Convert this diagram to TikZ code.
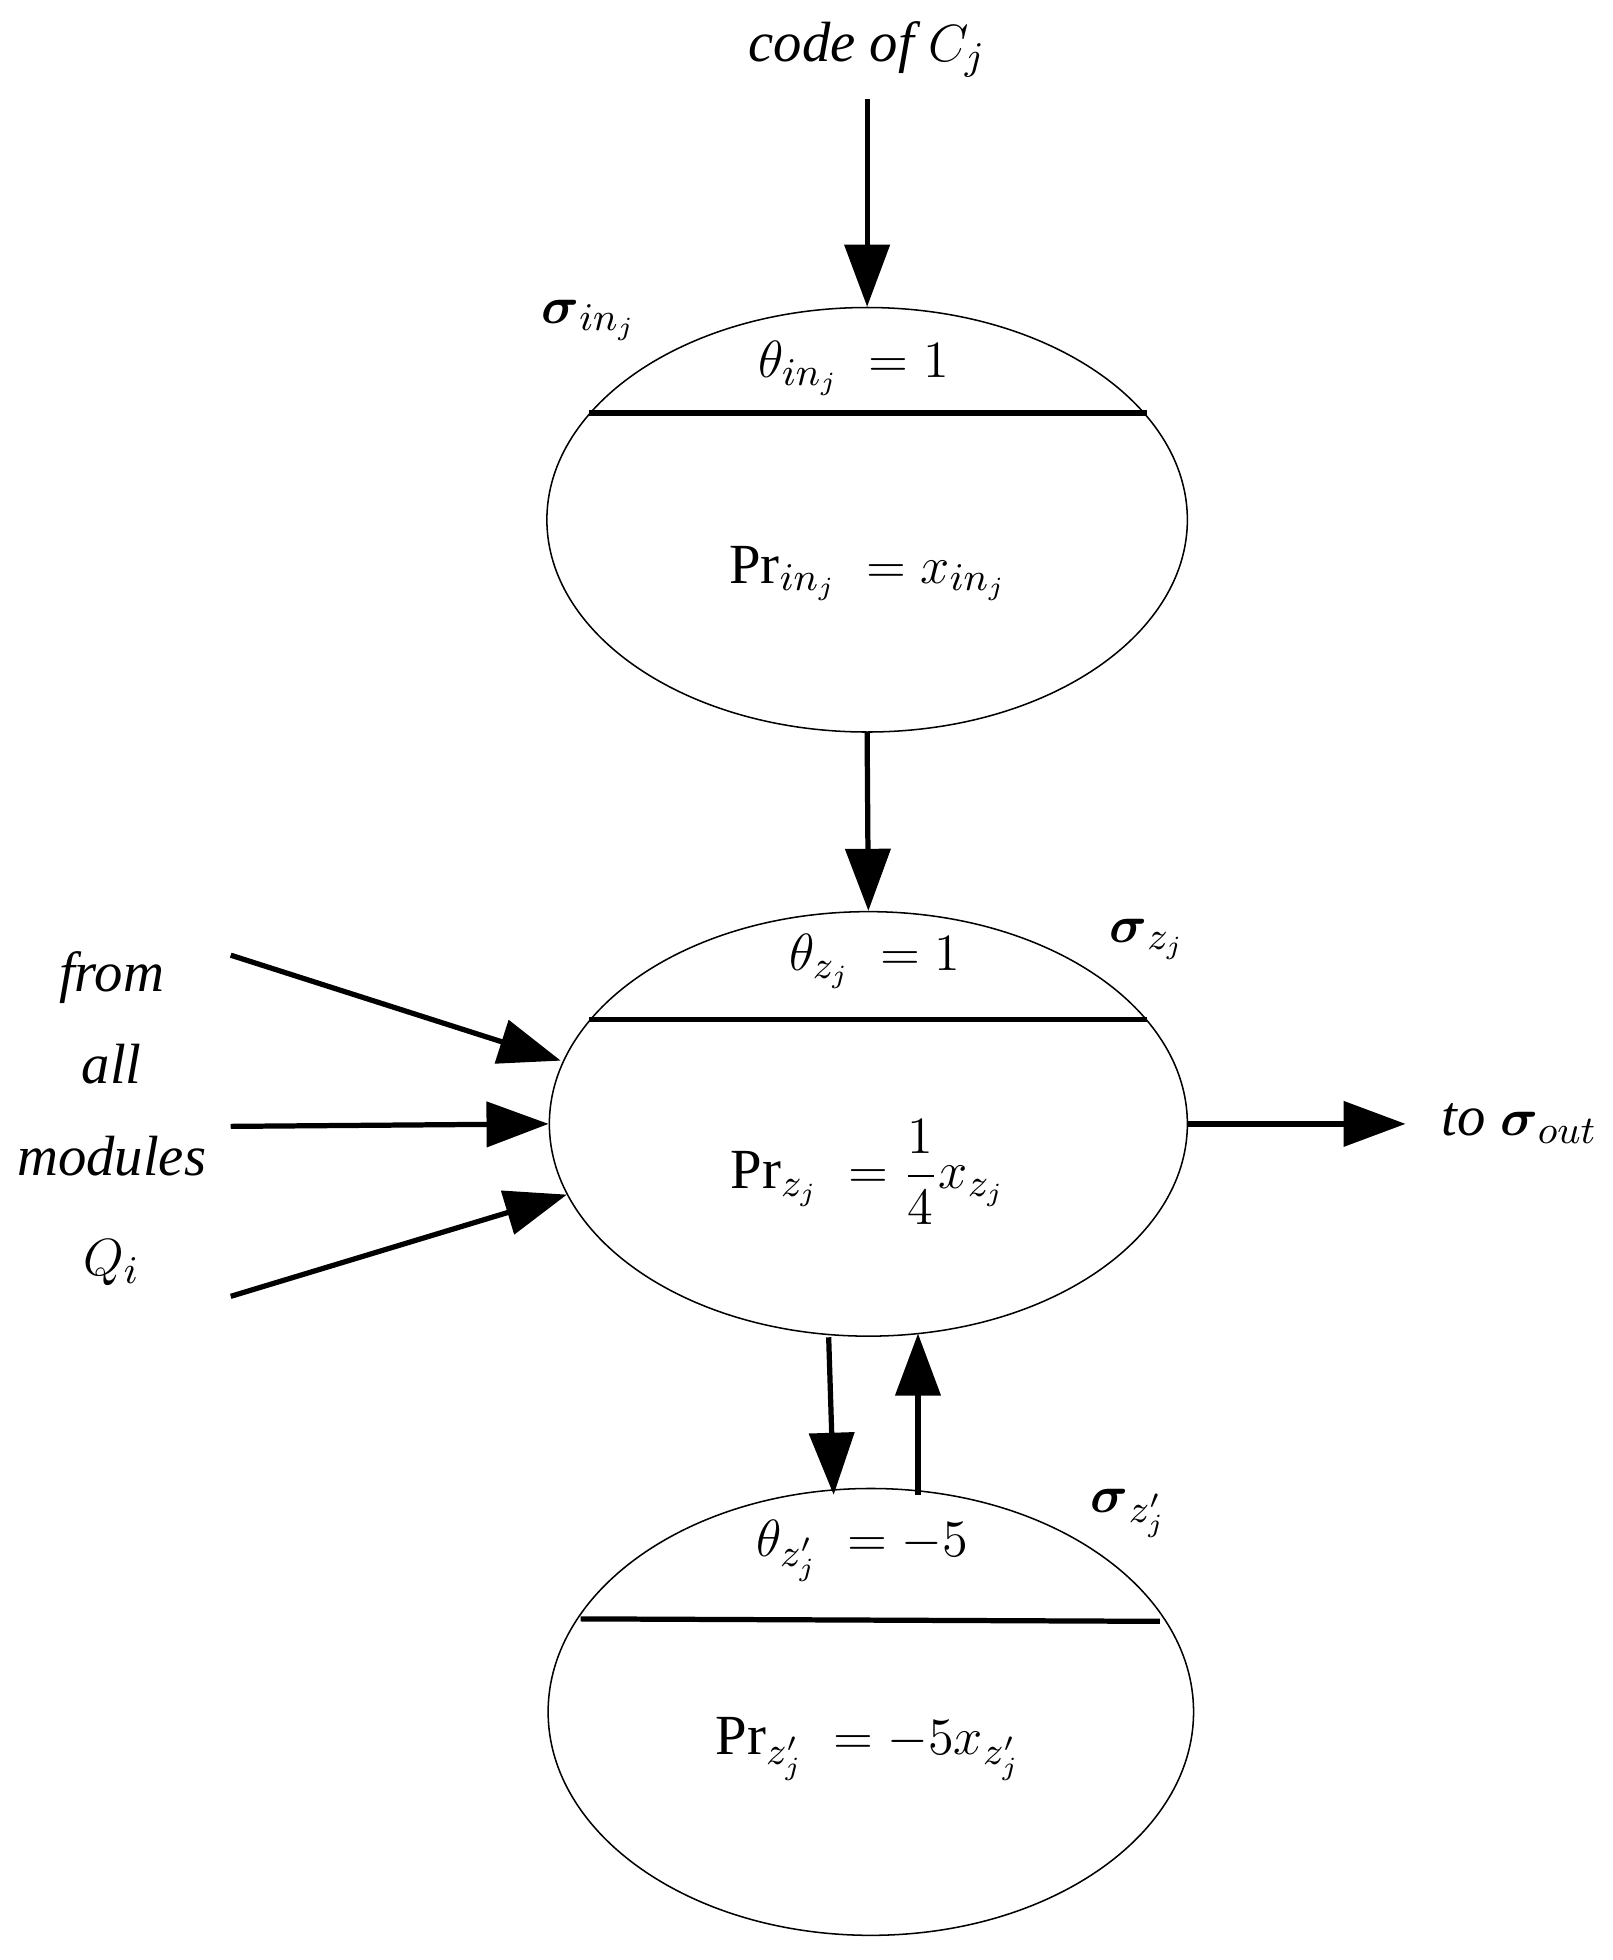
\documentclass[tikz,border=0pt]{standalone}
\usepackage{amsmath}
\usepackage{fontspec}
\setmainfont{Liberation Serif}
\usetikzlibrary{arrows.meta,shapes.geometric}

\begin{document}
\begin{tikzpicture}[x=0.01cm,y=-0.01cm,>={Triangle[length=0.5cm,width=0.36cm]},
    font=\fontsize{13}{15}\selectfont,
    cell/.style={ellipse,draw,line width=0.35pt,inner sep=0pt},
    bar/.style={line width=1.2pt},
    link/.style={->,line width=1.2pt},
    lbl/.style={inner sep=1pt}]
    \useasboundingbox (0,0) rectangle (1300,1580);

    % cells
    \node[cell,minimum width=5.16cm,minimum height=3.42cm] (in) at (699,419) {};
    \node[cell,minimum width=5.14cm,minimum height=3.42cm] (z) at (700,906) {};
    \node[cell,minimum width=5.20cm,minimum height=3.60cm] (zp) at (702,1380) {};
    \draw[bar] (475,333) -- (925,333);
    \draw[bar] (475,822) -- (925,822);
    \draw[bar] (468,1305) -- (935,1307);

    % texts
    \node[lbl] (code) at (699,40) {\itshape code of $C_j$};
    \node[lbl] (sin) at (475,258) {$\boldsymbol{\sigma}_{in_j}$};
    \node[lbl] (thin) at (688,297) {$\theta_{in_j}\;=1$};
    \node[lbl] (prin) at (700,462) {$\mathrm{Pr}_{in_j}\;=x_{in_j}$};
    \node[lbl] (sz) at (925,757) {$\boldsymbol{\sigma}_{z_j}$};
    \node[lbl] (thz) at (705,775) {$\theta_{z_j}\;=1$};
    \node[lbl] (prz) at (700,945) {$\mathrm{Pr}_{z_j}\;=\dfrac{1}{4}x_{z_j}$};
    \node[lbl] (szp) at (910,1220) {$\boldsymbol{\sigma}_{z'_j}$};
    \node[lbl] (thzp) at (695,1250) {$\theta_{z'_j}\;=-5$};
    \node[lbl] (przp) at (700,1410) {$\mathrm{Pr}_{z'_j}\;=-5x_{z'_j}$};
    \node[lbl] (from) at (90,788) {\itshape from};
    \node[lbl] (all) at (90,858) {\itshape all};
    \node[lbl] (mods) at (90,932) {\itshape modules};
    \node[lbl] (qi) at (90,1018) {$Q_i$};
    \node[lbl] (out) at (1225,906) {\itshape to $\boldsymbol{\sigma}_{out}$};

    % free ends
    \coordinate (c0) at (699,80);
    \coordinate (q1) at (186,770);
    \coordinate (q2) at (186,908);
    \coordinate (q3) at (186,1045);

    \draw[link] (c0) -- (in.north);
    \draw[link] (in.south) -- (z.north);
    \draw[link] (q1) -- (452,855);
    \draw[link] (q2) -- (z.west);
    \draw[link] (q3) -- (457,963);
    \draw[link,shorten >=0.25cm] (z.east) -- (out.west);
    \draw[link] (668,1078) -- (672,1205);
    \draw[link] (740,1205) -- (740,1075);
\end{tikzpicture}
\end{document}
